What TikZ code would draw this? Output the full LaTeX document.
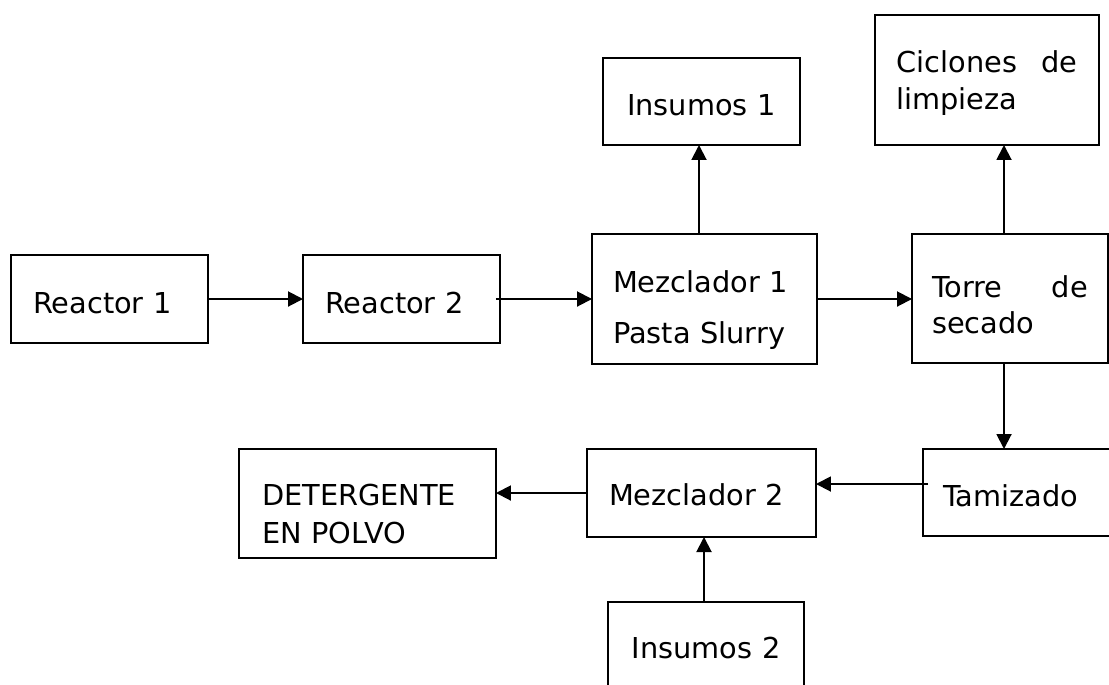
\documentclass[tikz,border=0pt]{standalone}
\usepackage{fontspec}
\setmainfont{DejaVu Sans}
\usetikzlibrary{arrows.meta,calc}
\begin{document}
\begin{tikzpicture}[x=0.02cm,y=-0.02cm,
  box/.style={draw, line width=1.1pt, inner sep=0pt, outer sep=0pt, text height=0.8cm,
    font=\fontsize{16.4pt}{19.5pt}\selectfont},
  arr/.style={line width=1.1pt, -{Triangle[length=0.3cm,width=0.3cm]}}]
\clip (0,0) rectangle (1109,684);
% boxes
\node[box, minimum width=3.94cm, minimum height=1.76cm, text width=3.06cm, align=left, text depth=0.24cm] (r1) at (109.5,299) {Reactor 1};
\node[box, minimum width=3.94cm, minimum height=1.76cm, text width=3.06cm, align=left, text depth=0.24cm] (r2) at (401.5,299) {Reactor 2};
\node[box, minimum width=4.5cm, minimum height=2.6cm, text width=3.66cm, align=left, text depth=1.08cm,
  font=\fontsize{16.4pt}{1.04cm}\selectfont] (m1) at (704.5,299) {Mezclador 1\\Pasta Slurry};
\node[box, minimum width=3.94cm, minimum height=1.74cm, text width=3.5cm, align=center, text depth=0.26cm] (ins1) at (701.5,101.5) {Insumos 1};
\node[box, minimum width=4.48cm, minimum height=2.6cm, text width=3.62cm, align=left, text depth=1.12cm,
  font=\fontsize{16.4pt}{0.74cm}\selectfont] (cic) at (987,80) {Ciclones\hfill de\\limpieza};
\node[box, minimum width=3.92cm, minimum height=2.58cm, text width=3.12cm, align=left, text depth=0.86cm,
  font=\fontsize{16.4pt}{0.72cm}\selectfont] (torre) at (1010,298.5) {Torre\hfill de\\secado};
\node[box, minimum width=3.94cm, minimum height=1.74cm, text width=3.14cm, align=left, text depth=0.26cm] (tam) at (1021.5,492.5) {Tamizado};
\node[box, minimum width=4.58cm, minimum height=1.76cm, text width=3.7cm, align=left, text depth=0.32cm] (m2) at (701.5,493) {Mezclador 2};
\node[box, minimum width=5.14cm, minimum height=2.18cm, text width=4.22cm, align=left, text depth=0.74cm,
  font=\fontsize{16.4pt}{0.76cm}\selectfont] (det) at (367.5,503.5) {DETERGENTE\\EN POLVO};
\node[box, minimum width=3.92cm, minimum height=1.74cm, text width=3.5cm, align=center, text depth=0.30cm] (ins2) at (706,645.5) {Insumos 2};
% connectors
\draw[arr] (r1.east) -- (r1.east -| r2.west);
\coordinate (a0) at ($(r2.east)+(-4,0)$);
\draw[arr] (a0) -- (a0 -| m1.west);
\coordinate (a1) at ($(m1.north)+(-5.5,0)$);
\draw[arr] (a1) -- (a1 |- ins1.south);
\draw[arr] (m1.east) -- (m1.east -| torre.west);
\coordinate (a2) at ($(torre.north)+(-6,0)$);
\draw[arr] (a2) -- (a2 |- cic.south);
\coordinate (a3) at ($(torre.south)+(-6,0)$);
\draw[arr] (a3) -- (a3 |- tam.north);
\coordinate (a4) at ($(tam.west)+(5,-8.5)$);
\draw[arr] (a4) -- (a4 -| m2.east);
\draw[arr] (m2.west) -- (m2.west -| det.east);
\coordinate (a5) at ($(ins2.north)+(-2,0)$);
\draw[arr] (a5) -- (a5 |- m2.south);
\end{tikzpicture}
\end{document}
